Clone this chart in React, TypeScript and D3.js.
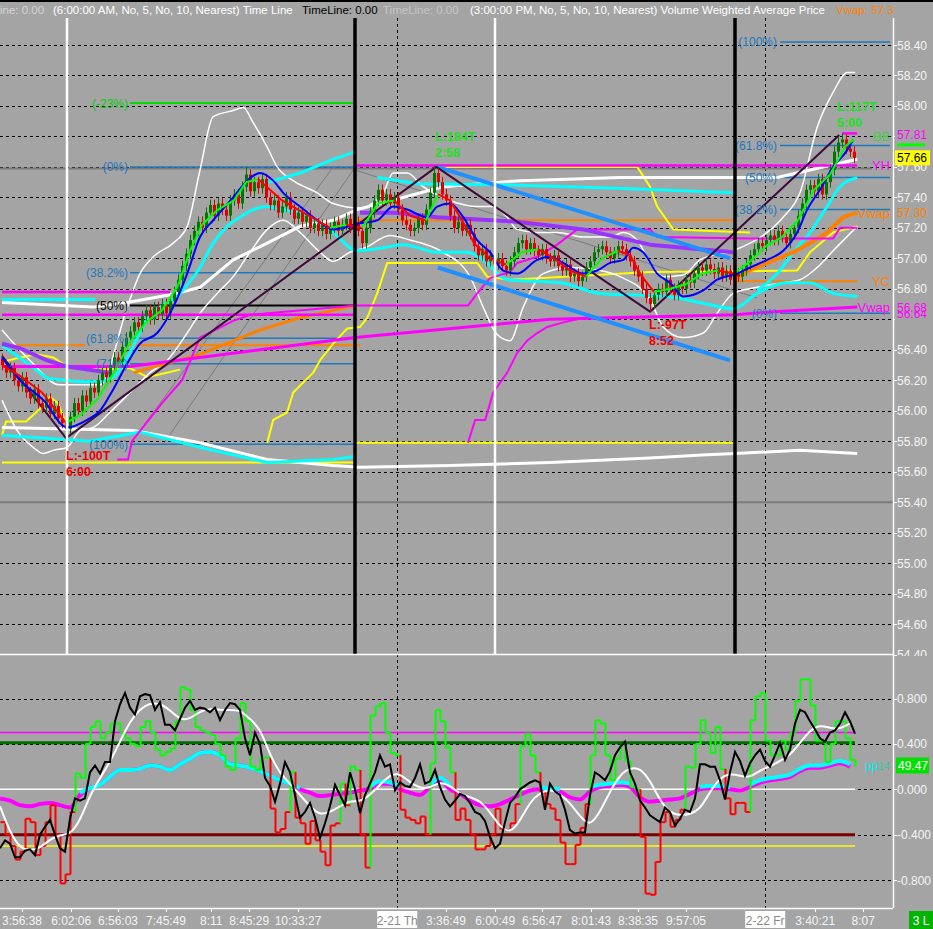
import { useEffect, useRef } from "react"
import * as d3 from "d3"

type Knot = [number, number]

// ---- price bars (one close per bar, bars are evenly spaced) ----
const closes = [
  56.30, 56.25, 56.28, 56.20, 56.16, 56.22, 56.12, 56.08, 56.14, 56.05,
  56.02, 56.08, 55.98, 56.03, 55.95, 55.92, 55.88, 55.96, 56.05, 56.00,
  56.10, 56.06, 56.15, 56.12, 56.20, 56.25, 56.22, 56.30, 56.35, 56.32,
  56.42, 56.48, 56.52, 56.58, 56.55, 56.62, 56.66, 56.60, 56.68, 56.63,
  56.70, 56.64, 56.72, 56.78, 56.86, 56.95, 57.03, 57.12, 57.18, 57.24,
  57.20, 57.30, 57.35, 57.28, 57.36, 57.32, 57.28, 57.38, 57.42, 57.36,
  57.47, 57.55, 57.44, 57.50, 57.46, 57.52, 57.40, 57.35, 57.38, 57.30,
  57.34, 57.40, 57.32, 57.26, 57.30, 57.24, 57.28, 57.20, 57.23, 57.18,
  57.22, 57.16, 57.20, 57.24, 57.18, 57.22, 57.26, 57.20, 57.24, 57.18,
  57.10, 57.20, 57.30, 57.38, 57.45, 57.38, 57.42, 57.36, 57.40, 57.32,
  57.25, 57.22, 57.18, 57.20, 57.26, 57.22, 57.32, 57.43, 57.56, 57.50,
  57.42, 57.38, 57.28, 57.20, 57.24, 57.18, 57.22, 57.16, 57.08, 57.02,
  57.06, 56.98, 57.02, 56.96, 57.00, 56.95, 56.92, 56.98, 57.04, 57.10,
  57.12, 57.06, 57.10, 57.05, 57.02, 57.06, 57.00, 56.98, 57.02, 56.95,
  56.92, 56.96, 56.88, 56.90, 56.85, 56.88, 56.94, 56.98, 57.04, 57.06,
  57.08, 57.04, 57.00, 57.04, 57.08, 57.06, 57.02, 56.98, 56.92, 56.88,
  56.80, 56.74, 56.70, 56.76, 56.80, 56.78, 56.86, 56.80, 56.76, 56.82,
  56.80, 56.86, 56.84, 56.90, 56.94, 56.92, 56.96, 56.93, 56.90, 56.94,
  56.88, 56.92, 56.86, 56.90, 56.88, 56.92, 56.96, 57.02, 57.06, 57.10,
  57.08, 57.12, 57.15, 57.12, 57.18, 57.14, 57.10, 57.16, 57.20, 57.28,
  57.36, 57.45, 57.48, 57.44, 57.52, 57.42, 57.50, 57.58, 57.70, 57.76,
  57.78, 57.72, 57.70, 57.66,
]
const swingHighs: Knot[] = [[61, 57.60], [108, 57.61], [210, 57.82]]
const swingLows: Knot[] = [[16, 55.83], [162, 56.65]]

const priceTicks = ["58.40", "58.20", "58.00", "57.80", "57.60", "57.40", "57.20", "57.00", "56.80", "56.60",
  "56.40", "56.20", "56.00", "55.80", "55.60", "55.40", "55.20", "55.00", "54.80", "54.60", "54.40"]
// tick labels hidden behind the price tags
const hiddenTicks = ["56.60"]
const oscTicks = ["0.800", "0.400", "0.000", "-0.400", "-0.800"]

const timeLabels = ["3:56:38", "6:02:06", "6:56:03", "7:45:49", "8:11", "8:45:29", "10:33:27",
  "3:36:49", "6:00:49", "6:56:47", "8:01:43", "8:38:35", "9:57:05", "3:40:21", "8:07"]
const timeLabelBars = [5, 17.3, 29, 41, 52.3, 61.8, 74, 111, 123.3, 135, 147.3, 159, 171, 203.3, 215.3]
const dayLabels = ["2-21 Th", "2-22 Fr"]
const dayBars = [98.8, 190.8]
const sessionBars = [88.25, 183.25]
const timeLineBars = [16.25, 123.25]

// ---- moving averages / bands (bar index, price) ----
const blueMa: Knot[] = [[0, 56.35], [4.5, 56.2], [10.3, 56.07], [16.3, 55.89], [21.3, 55.94], [24.5, 56.0], [27.8, 56.14],
  [31.3, 56.31], [34.5, 56.44], [38.8, 56.51], [42.8, 56.68], [46.3, 56.9], [49.5, 57.14], [52.8, 57.25], [57.8, 57.4],
  [61.3, 57.51], [64.5, 57.56], [67.8, 57.51], [70.3, 57.43], [74.5, 57.34], [78.8, 57.25], [82.8, 57.19], [89.5, 57.23],
  [93.8, 57.25], [97.8, 57.34], [101.3, 57.32], [106.3, 57.27], [108.8, 57.34], [112, 57.36], [115.3, 57.27], [118.8, 57.12],
  [122, 57.04], [125.3, 56.92], [128.8, 56.9], [133.8, 56.99], [137, 57.01], [140.3, 56.97], [145.3, 56.9], [148.8, 56.92],
  [152, 56.97], [155.3, 56.99], [157.8, 57.07], [160.3, 57.04], [163.8, 56.9], [167, 56.84], [170.3, 56.75], [175.3, 56.79],
  [178.8, 56.86], [183.8, 56.9], [187, 56.94], [191.3, 56.99], [195.3, 57.05], [198.8, 57.17], [201.3, 57.32], [204.5, 57.45],
  [207.8, 57.6], [211.3, 57.71], [212.8, 57.78]]
const fastMa: Knot[] = [[0, 56.3], [5, 56.22], [10, 56.12], [16, 55.92], [20, 55.98], [24, 56.08], [28, 56.25], [32, 56.45],
  [36, 56.58], [40, 56.66], [44, 56.82], [47, 57.05], [50, 57.22], [54, 57.32], [58, 57.38], [61, 57.5], [64, 57.52],
  [67, 57.45], [70, 57.38], [74, 57.32], [78, 57.26], [82, 57.2], [86, 57.22], [90, 57.2], [94, 57.36], [98, 57.38],
  [102, 57.28], [106, 57.25], [109, 57.42], [112, 57.38], [115, 57.25], [118, 57.1], [122, 57.0], [126, 56.96], [130, 57.04],
  [134, 57.06], [138, 57.0], [142, 56.92], [146, 56.88], [150, 57.0], [154, 57.05], [157, 57.02], [160, 56.88], [163, 56.78],
  [167, 56.8], [171, 56.83], [175, 56.9], [179, 56.92], [183, 56.9], [187, 56.98], [191, 57.08], [195, 57.14], [199, 57.25],
  [203, 57.45], [207, 57.55], [211, 57.74], [213, 57.78]]
const bandUpper: Knot[] = [[0, 56.53], [7, 56.33], [14.5, 56.17], [24.5, 56.17], [31.3, 56.68], [34.5, 56.9], [37.8, 57.01],
  [42.8, 57.1], [46.3, 57.21], [49.5, 57.58], [52.8, 57.93], [57.8, 57.97], [60.3, 57.99], [62.8, 57.89], [66.3, 57.73],
  [68.8, 57.6], [72.8, 57.51], [78.8, 57.43], [82.8, 57.36], [89.5, 57.33], [95.3, 57.43], [97.8, 57.56], [101.3, 57.56],
  [105.3, 57.47], [112, 57.38], [118.8, 57.34], [122.8, 57.34], [126.3, 57.27], [128.8, 57.19], [133.8, 57.17], [138.8, 57.17],
  [145.3, 57.14], [152, 57.14], [155.3, 57.17], [158.8, 57.12], [162, 56.97], [165.3, 56.88], [170.3, 56.89], [174.5, 56.99],
  [182.8, 57.05], [191.3, 57.17], [195.3, 57.27], [199.5, 57.43], [203.8, 57.86], [207.8, 58.09], [211.3, 58.22], [213.3, 58.22]]
const bandLower: Knot[] = [[0, 56.07], [3.8, 55.87], [7.8, 55.76], [10.3, 55.72], [12.8, 55.74], [16.3, 55.76], [19.5, 55.87],
  [22.8, 55.89], [27, 55.99], [32.8, 56.14], [37, 56.25], [41.3, 56.33], [46.3, 56.51], [49.5, 56.64], [53.8, 56.77],
  [57.8, 56.88], [62, 57.04], [66.3, 57.19], [70.3, 57.25], [74.5, 57.17], [79.5, 57.04], [82.8, 56.98], [87, 57.04],
  [90.8, 57.07], [97, 57.15], [102, 57.12], [109.5, 57.05], [117, 56.88], [120.3, 56.68], [123.8, 56.5], [127, 56.46],
  [130.3, 56.68], [135.3, 56.9], [142, 56.94], [149.5, 56.92], [154.5, 56.88], [162, 56.73], [165.3, 56.55], [170.3, 56.48],
  [175.3, 56.51], [178.8, 56.64], [182.8, 56.77], [188.8, 56.81], [195.3, 56.84], [199.5, 56.86], [203.8, 56.94],
  [207.8, 57.05], [213.8, 57.21]]
const slowWhite: Knot[] = [[0, 56.71], [22.8, 56.68], [31.3, 56.71], [43.8, 56.77], [49.5, 56.81], [57.8, 56.99], [66.3, 57.1],
  [74.5, 57.21], [82.8, 57.25], [88.8, 57.32], [110.3, 57.47], [129.5, 57.51], [154.5, 57.53], [183.3, 57.53], [193.8, 57.53],
  [202, 57.58], [213.8, 57.65]]
const longWhite: Knot[] = [[0, 55.89], [16.3, 55.88], [32.8, 55.87], [49.5, 55.79], [66.3, 55.68], [82.8, 55.64], [89.5, 55.63],
  [112, 55.64], [137, 55.66], [162, 55.69], [175, 55.71], [183.3, 55.72], [199.5, 55.74], [213.8, 55.72]]
const cyanLow: Knot[] = [[0, 56.43], [7, 56.3], [12, 56.21], [23.3, 56.19], [27.8, 56.22], [31.3, 56.35], [36.3, 56.6],
  [44.5, 56.77], [49.5, 56.94], [52.8, 57.1], [56.3, 57.21], [59.5, 57.27], [62.8, 57.32], [66.3, 57.34], [69.5, 57.32],
  [74.5, 57.3], [82, 57.19], [88.8, 57.05], [95.3, 57.07], [100.3, 57.09], [108.8, 57.04], [116.3, 57.04], [120.3, 56.99],
  [126.3, 56.86], [139.5, 56.84], [149.5, 56.77], [166.3, 56.75], [174.5, 56.71], [182.8, 56.67], [188.8, 56.77],
  [196.3, 56.84], [202, 56.84], [207.8, 56.77], [213.8, 56.75]]
const cyanHighA: Knot[] = [[65.3, 57.49], [74.5, 57.56], [82.8, 57.65], [88.3, 57.7]]
const cyanHighB: Knot[] = [[93.8, 57.53], [103.8, 57.49], [128.8, 57.48], [153.8, 57.46], [182.8, 57.43]]
const cyanHighC: Knot[] = [[188.8, 56.79], [193.8, 56.9], [197.8, 57.04], [202, 57.17], [206.3, 57.34], [209.5, 57.47], [213.8, 57.53]]
const cyanBottom: Knot[] = [[0, 55.84], [16.3, 55.81], [22, 55.8], [34.5, 55.86], [49.5, 55.76], [66.3, 55.66], [82.8, 55.68], [88.3, 55.7]]
const cyanFlat: Knot[] = [[0, 56.73], [23.3, 56.73]]
const purpleA: Knot[] = [[0, 56.44], [4.5, 56.41], [11.3, 56.33], [16.3, 56.29], [27, 56.25]]
const purpleB: Knot[] = [[89.5, 57.3], [97.8, 57.3], [108.8, 57.27], [128.8, 57.24], [145.3, 57.19], [162, 57.09], [182.8, 57.04]]

// ---- levels, vwap and step lines ----
const magentaVwap: Knot[] = [[0, 56.29], [32, 56.29], [88.3, 56.48], [137, 56.6], [183.3, 56.63], [193, 56.65], [213.8, 56.68]]
const magentaStep: Knot[] = [[28.8, 55.68], [31.5, 55.68], [32.5, 55.8], [40, 56.05], [45, 56.2], [49.5, 56.48], [57.8, 56.59],
  [62, 56.63], [88.3, 56.69], [116.5, 56.69], [118.8, 56.77], [122, 56.87], [127, 56.91], [128.8, 56.97], [133.8, 57.01],
  [138.8, 57.09], [143.8, 57.19], [162, 57.19], [163.8, 57.14], [187, 57.13], [207.8, 57.13], [209.5, 57.2], [213.8, 57.2]]
const magentaStep2: Knot[] = [[116.5, 55.79], [118.3, 55.94], [120.8, 55.94], [122.8, 56.12], [126.3, 56.25], [128.8, 56.38],
  [131.3, 56.46], [133.8, 56.51], [136.3, 56.55], [140.3, 56.58], [143.8, 56.6]]
const orangeVwapA: Knot[] = [[32.8, 56.25], [49.5, 56.37], [64.5, 56.53], [74.5, 56.61], [88.3, 56.69]]
const orangeVwapB: Knot[] = [[183.3, 56.86], [186, 56.91], [191.3, 56.97], [197.8, 57.04], [202, 57.1], [206.3, 57.17], [210.3, 57.27], [213.8, 57.3]]
const yellowStep: Knot[] = [[66.3, 55.79], [67.8, 55.94], [71.3, 55.99], [72.8, 56.12], [77.8, 56.25], [79.5, 56.33], [82.8, 56.44],
  [86.3, 56.54], [89.5, 56.55], [91.3, 56.61], [93.8, 56.77], [96.3, 56.97], [118.8, 56.97], [121.3, 56.88], [127, 56.86],
  [162, 56.91], [198.8, 56.92], [202, 57.04], [207.8, 57.17], [213.8, 57.21]]
const yellowTop: Knot[] = [[108.8, 57.6], [158.8, 57.6], [162, 57.47], [163.8, 57.34], [167.8, 57.19], [187, 57.17]]
const yellowLeft: Knot[] = [[0, 56.32], [4.5, 56.35], [8.8, 56.37], [12.8, 56.35], [16.3, 56.29], [24.5, 56.27], [32, 56.28], [36.3, 56.22], [44.5, 56.27]]
const yellowLeft2: Knot[] = [[0, 55.84], [1, 55.93], [6, 55.93], [9, 56.0], [12, 56.09], [14, 56.05], [16.3, 55.9]]
const zigzag: Knot[] = [[0, 56.36], [16, 55.82], [108.6, 57.6], [162, 56.65], [209.3, 57.81]]
const channelUp: Knot[] = [[108.8, 57.6], [182, 57.0]]
const channelDn: Knot[] = [[109, 56.94], [182, 56.33]]
const grayRays: Knot[][] = [[[32, 55.78], [82.8, 57.6]], [[40.3, 55.78], [87.8, 57.58]], [[87, 57.59], [188.8, 56.74]]]

// [price, fromBar, toBar]
const magentaLevels: [number, number, number][] = [[56.78, 0, 42], [56.63, 0, 88.3], [57.61, 88.3, 213.8], [57.82, 210, 213.8]]
const orangeLevels: [number, number, number][] = [[56.43, 0, 20.8], [56.43, 32, 89.5], [57.25, 88.3, 183.3], [56.85, 183.3, 213.8]]
const yellowLevels: [number, number, number][] = [[55.66, 0, 88.3], [55.79, 88.3, 183.3]]
const grayLevels: [number, number, number][] = [[57.59, -1, 217.5], [55.4, -1, 223]]

// fibonacci retracements
const fibLeftPct = [-23, 0, 38.2, 50, 61.8, 71, 100]
const fibLeftHigh = 57.6
const fibLeftLow = 55.78
const fibRightPct = [100, 61.8, 50, 38.2, 0]
const fibRightHigh = 58.42
const fibRightLow = 56.64

// ---- lower panel oscillators (evenly sampled) ----
const stepOsc = [
  -0.29, -0.40, -0.50, -0.62, -0.55, -0.26, -0.29, -0.58, -0.50, -0.29,
  -0.14, -0.40, -0.83, -0.75, -0.20, 0.14, 0.10, 0.40, 0.55, 0.60,
  0.45, 0.50, 0.58, 0.58, 0.50, 0.45, 0.40, 0.38, 0.55, 0.60,
  0.50, 0.35, 0.30, 0.33, 0.36, 0.60, 0.90, 0.88, 0.70, 0.55,
  0.52, 0.50, 0.48, 0.40, 0.30, 0.20, 0.17, 0.45, 0.76, 0.60,
  0.20, 0.17, 0.28, 0.28, -0.17, -0.38, -0.35, -0.20, 0.15, -0.25,
  -0.30, -0.48, -0.28, -0.45, -0.55, -0.67, -0.32, -0.30, 0.05, -0.14,
  0.20, 0.17, -0.40, -0.69, 0.65, 0.73, 0.76, 0.50, 0.32, 0.30,
  -0.18, -0.25, -0.27, -0.30, -0.24, -0.40, 0.23, 0.70, 0.60, 0.37,
  0.15, -0.27, -0.17, -0.27, -0.40, -0.53, -0.53, -0.50, -0.40, -0.17,
  -0.35, -0.36, -0.30, -0.13, 0.38, 0.49, 0.30, 0.15, -0.03, -0.13,
  -0.17, -0.27, -0.47, -0.66, -0.66, -0.49, -0.34, -0.13, 0.30, 0.61,
  0.58, 0.30, 0.08, 0.27, 0.39, 0.25, 0.02, 0.00, -0.42, -0.92,
  -0.93, -0.64, -0.29, -0.20, -0.33, -0.27, -0.18, 0.20, 0.19, 0.40,
  0.61, 0.50, 0.32, 0.55, 0.18, -0.08, -0.22, -0.12, -0.12, -0.20,
  0.61, 0.82, 0.85, 0.43, 0.30, 0.30, 0.43, 0.35, 0.50, 0.78,
  0.97, 0.97, 0.74, 0.43, 0.43, 0.24, 0.40, 0.60, 0.60, 0.45,
  0.26, 0.20,
]
const blackOsc = [
  -0.52, -0.45, -0.48, -0.60, -0.60, -0.54, -0.53, -0.58, -0.40, -0.33,
  -0.27, -0.40, -0.52, -0.55, -0.26, -0.08, -0.10, -0.08, 0.15, 0.21,
  0.14, 0.24, 0.24, 0.60, 0.75, 0.85, 0.72, 0.66, 0.82, 0.84,
  0.83, 0.70, 0.77, 0.57, 0.57, 0.52, 0.62, 0.72, 0.78, 0.70,
  0.72, 0.71, 0.68, 0.72, 0.61, 0.70, 0.76, 0.75, 0.70, 0.45,
  0.30, 0.50, 0.40, 0.10, 0.03, -0.11, 0.05, 0.24, 0.15, -0.05,
  -0.25, -0.20, -0.12, -0.25, -0.43, -0.30, -0.15, 0.04, -0.05, -0.14,
  0.15, 0.00, -0.21, -0.05, 0.05, 0.15, 0.30, 0.20, 0.22, -0.01,
  0.06, 0.03, 0.02, 0.10, 0.22, 0.05, 0.07, 0.17, 0.02, -0.09,
  -0.15, -0.10, -0.04, -0.06, -0.12, -0.20, -0.22, -0.28, -0.42, -0.52,
  -0.48, -0.29, -0.12, -0.07, 0.00, 0.03, 0.06, 0.08, 0.06, -0.18,
  0.05, -0.02, -0.05, -0.18, -0.36, -0.39, -0.38, -0.38, -0.05, 0.15,
  0.12, 0.08, 0.16, 0.30, 0.37, 0.42, 0.15, 0.05, -0.10, -0.16,
  -0.23, -0.26, -0.29, -0.16, -0.20, -0.32, -0.26, -0.18, -0.20, -0.08,
  0.22, 0.22, 0.20, 0.20, 0.08, -0.09, 0.15, 0.33, 0.25, 0.12,
  0.23, 0.30, 0.35, 0.25, 0.20, 0.30, 0.41, 0.26, 0.35, 0.58,
  0.70, 0.68, 0.60, 0.53, 0.45, 0.42, 0.50, 0.52, 0.58, 0.68,
  0.60, 0.49,
]
const whiteOsc = [
  -0.15, -0.38, -0.52, -0.54, -0.52, -0.44, -0.40, -0.40, -0.28, -0.05,
  0.10, 0.24, 0.42, 0.60, 0.71, 0.76, 0.76, 0.70, 0.61, 0.62,
  0.69, 0.71, 0.70, 0.70, 0.70, 0.62, 0.54, 0.30, 0.14, 0.05,
  -0.05, -0.15, -0.23, -0.20, -0.15, -0.10, -0.11, -0.05, 0.04, 0.13,
  0.14, 0.06, 0.01, 0.01, 0.07, 0.03, -0.04, -0.07, -0.10, -0.20,
  -0.33, -0.39, -0.28, -0.11, -0.03, 0.00, -0.04, -0.12, -0.24, -0.33,
  -0.20, -0.02, 0.13, 0.19, 0.19, 0.08, -0.10, -0.21, -0.23, -0.22,
  -0.18, -0.02, 0.10, 0.14, 0.12, 0.10, 0.17, 0.20, 0.25, 0.30,
  0.41, 0.52, 0.57, 0.54, 0.53, 0.58,
]
const cyanOsc: (number | null)[] = [
  null, null, null, null, null, null, null, null, -0.03, 0.01,
  0.04, 0.11, 0.17, 0.17, 0.18, 0.21, 0.20, 0.17, 0.22, 0.27,
  0.32, 0.33, 0.30, 0.22, 0.21, 0.19, 0.16, 0.12, 0.08, 0.05,
  0.01, null, null, null, null, null, null, 0.02, 0.07, 0.06,
  0.02, null, null, 0.04, 0.10, 0.03, null, null, null, null,
  null, null, null, null, 0.01, 0.01, 0.00, null, null, 0.02,
  0.04, 0.05, 0.06, 0.05, null, null, null, null, null, null,
  0.02, 0.03, 0.03, 0.02, null, 0.04, 0.08, 0.10, 0.11, 0.13,
  0.18, 0.21, 0.21, 0.23, 0.25, 0.22,
]
const magentaOsc = [
  -0.08, -0.10, -0.14, -0.15, -0.13, -0.12, -0.14, -0.16, -0.05, 0.01,
  0.04, 0.11, 0.17, 0.17, 0.18, 0.21, 0.20, 0.17, 0.22, 0.27,
  0.32, 0.33, 0.30, 0.22, 0.21, 0.19, 0.16, 0.12, 0.08, 0.05,
  0.00, -0.03, -0.06, -0.05, -0.04, -0.03, -0.01, 0.00, 0.05, 0.05,
  0.00, -0.03, -0.05, 0.02, 0.08, 0.00, -0.04, -0.10, -0.14, -0.15,
  -0.13, -0.09, -0.05, -0.01, 0.00, 0.00, -0.02, -0.07, -0.09, -0.02,
  0.02, 0.03, 0.04, 0.02, -0.07, -0.11, -0.10, -0.09, -0.08, -0.04,
  0.00, 0.01, 0.01, 0.00, -0.01, 0.02, 0.06, 0.08, 0.09, 0.11,
  0.16, 0.19, 0.19, 0.21, 0.23, 0.20,
]
const oscLevels = [0.5, 0.41, 0, -0.4, -0.5]
const oscLevelColors = ["#ff00ff", "#006e00", "#ffffff", "#7a0000", "#ffff00"]
const oscLevelWidths = [1.5, 3, 1.5, 3, 1.5]

const FONT = "'Liberation Sans', Arial, sans-serif"

export default function App() {
  const ref = useRef<SVGSVGElement>(null)

  useEffect(() => {
    const svg = d3.select(ref.current)
    svg.selectAll("*").remove()

    const W = 933, H = 929, plotR = 893
    const mainTop = 18, mainBot = 654, oscTop = 655, oscBot = 908

    const x = d3.scaleLinear().domain([0, 213]).range([2, 854])
    const y = d3.scaleLinear().domain([54.6, 58.4]).range([624.1, 45])
    const yo = d3.scaleLinear().domain([-0.8, 0.8]).range([880, 698.6])
    const xs = d3.scaleLinear().domain([0, stepOsc.length - 1]).range([0, 855])
    const xw = d3.scaleLinear().domain([0, whiteOsc.length - 1]).range([0, 850])
    const crisp = (v: number) => Math.round(v) + 0.5

    svg.append("rect").attr("width", W).attr("height", H).attr("fill", "#a4a4a4")

    const defs = svg.append("defs")
    defs.append("clipPath").attr("id", "clip-main").append("rect")
      .attr("x", 0).attr("y", mainTop).attr("width", plotR).attr("height", mainBot - mainTop)
    defs.append("clipPath").attr("id", "clip-osc").append("rect")
      .attr("x", 0).attr("y", oscTop).attr("width", plotR).attr("height", oscBot - oscTop)
    defs.append("clipPath").attr("id", "clip-head").append("rect")
      .attr("x", 0).attr("y", 0).attr("width", plotR).attr("height", mainTop)
    defs.append("clipPath").attr("id", "clip-axis").append("rect")
      .attr("x", plotR).attr("y", mainTop).attr("width", 40).attr("height", mainBot - mainTop + 2)

    // ---- header ----
    const head = svg.append("g").attr("clip-path", "url(#clip-head)")
      .attr("font-family", FONT).attr("font-size", 11.5)
    const headItems: [number, string, string][] = [
      [0, "ine: 0.00", "#d4d4d4"],
      [53, "(6:00:00 AM, No, 5, No, 10, Nearest)  Time Line", "#ffffff"],
      [302, "TimeLine: 0.00", "#000000"],
      [383, "TimeLine: 0.00", "#c4c4c4"],
      [470, "(3:00:00 PM, No, 5, No, 10, Nearest)  Volume Weighted Average Price", "#ffffff"],
      [836, "Vwap: 57.30", "#ff8000"],
    ]
    headItems.forEach(([hx, t, c]) => head.append("text").attr("x", hx).attr("y", 14).attr("fill", c).text(t))
    svg.append("rect").attr("width", W).attr("height", 2).attr("fill", "#000")

    // ---- grids ----
    priceTicks.forEach(t => {
      svg.append("line").attr("x1", 0).attr("x2", plotR)
        .attr("y1", crisp(y(+t))).attr("y2", crisp(y(+t)))
        .attr("stroke", "#000").attr("stroke-dasharray", "3,3")
        .attr("clip-path", "url(#clip-main)")
    })
    oscTicks.forEach(t => {
      svg.append("line").attr("x1", 0).attr("x2", plotR)
        .attr("y1", crisp(yo(+t))).attr("y2", crisp(yo(+t)))
        .attr("stroke", "#000").attr("stroke-dasharray", "3,3")
    })
    dayBars.forEach(b => {
      svg.append("line").attr("x1", crisp(x(b))).attr("x2", crisp(x(b)))
        .attr("y1", mainTop).attr("y2", oscBot)
        .attr("stroke", "#000").attr("stroke-dasharray", "3,3")
    })

    // ---- main panel ----
    const main = svg.append("g").attr("clip-path", "url(#clip-main)")
    const path = (pts: Knot[], color: string, width: number, curve: d3.CurveFactory = d3.curveLinear) =>
      main.append("path")
        .attr("d", d3.line<Knot>().x(d => x(d[0])).y(d => y(d[1])).curve(curve)(pts))
        .attr("fill", "none").attr("stroke", color).attr("stroke-width", width)
        .attr("stroke-linejoin", "round")
    const level = (lv: [number, number, number], color: string, width: number) =>
      path([[lv[1], lv[0]], [lv[2], lv[0]]], color, width)

    grayLevels.forEach(lv => level(lv, "#7c7c7c", 2))
    grayRays.forEach(r => path(r, "#7a7a7a", 1))

    // fib retracements
    const fibLeftPrice = (p: number) => fibLeftHigh - (p / 100) * (fibLeftHigh - fibLeftLow)
    fibLeftPct.forEach(p => {
      const c = p < 0 ? "#00e000" : p === 50 ? "#000000" : "#1e78be"
      path([[32, fibLeftPrice(p)], [88.3, fibLeftPrice(p)]], c, p === 50 || p < 0 ? 2 : 1.5)
    })
    const fibRightPrice = (p: number) => fibRightLow + (p / 100) * (fibRightHigh - fibRightLow)
    fibRightPct.forEach(p => path([[194.5, fibRightPrice(p)], [222, fibRightPrice(p)]], "#1e78be", 1.5))

    yellowLevels.forEach(lv => level(lv, "#ffff00", 2))
    orangeLevels.forEach(lv => level(lv, "#ff8000", 2))
    path(yellowLeft, "#ffff00", 2)
    path(yellowLeft2, "#ffff00", 2)
    path(yellowStep, "#ffff00", 2)
    path(yellowTop, "#ffff00", 2)
    path(longWhite, "#ffffff", 3)
    path(bandUpper, "#ffffff", 1.5, d3.curveMonotoneX)
    path(bandLower, "#ffffff", 1.5, d3.curveMonotoneX)
    path(cyanFlat, "#00ffff", 3)
    path(slowWhite, "#ffffff", 3)
    path(cyanBottom, "#00ffff", 3)
    path(cyanLow, "#00ffff", 3, d3.curveMonotoneX)
    path(cyanHighA, "#00ffff", 3)
    path(cyanHighB, "#00ffff", 3)
    path(cyanHighC, "#00ffff", 3, d3.curveMonotoneX)
    path(orangeVwapA, "#ff8000", 3)
    path(orangeVwapB, "#ff8000", 4)
    magentaLevels.forEach(lv => level(lv, "#ff00ff", 2.5))
    path(magentaStep, "#ff00ff", 2)
    path(magentaStep2, "#ff00ff", 2)
    path(magentaVwap, "#ff00ff", 3)
    path(purpleA, "#9933ff", 4)
    path(purpleB, "#9933ff", 4)
    path(channelUp, "#2090ff", 4)
    path(channelDn, "#2090ff", 4)
    path(zigzag, "#3c0a3c", 2)

    // candles
    const wick = 0.035
    closes.forEach((c, i) => {
      const o = i === 0 ? c + 0.04 : closes[i - 1]
      let hi = Math.max(o, c) + wick
      let lo = Math.min(o, c) - wick
      const sh = swingHighs.find(s => s[0] === i)
      const sl = swingLows.find(s => s[0] === i)
      if (sh) hi = sh[1]
      if (sl) lo = sl[1]
      const col = c >= o ? "#007800" : "#e00000"
      const cx = Math.round(x(i)) + 0.5
      main.append("line").attr("x1", cx).attr("x2", cx).attr("y1", y(hi)).attr("y2", y(lo))
        .attr("stroke", col).attr("stroke-width", 1)
      const top = y(Math.max(o, c)), bot = y(Math.min(o, c))
      main.append("rect").attr("x", cx - 1.5).attr("y", top).attr("width", 3)
        .attr("height", Math.max(1, bot - top)).attr("fill", col)
    })

    path(blueMa, "#0000ff", 2, d3.curveMonotoneX)
    for (let k = 1; k < fastMa.length; k++) {
      const up = fastMa[k][1] >= fastMa[k - 1][1]
      path([fastMa[k - 1], fastMa[k]], up ? "#00ff00" : "#ff0000", 2)
    }

    // session / time lines
    timeLineBars.forEach(b => main.append("line").attr("x1", x(b)).attr("x2", x(b))
      .attr("y1", mainTop).attr("y2", mainBot).attr("stroke", "#ffffff").attr("stroke-width", 2.5))
    sessionBars.forEach(b => svg.append("line").attr("x1", x(b)).attr("x2", x(b))
      .attr("y1", mainTop).attr("y2", mainBot + 1).attr("stroke", "#000").attr("stroke-width", 3.5))

    // fib labels
    const lab = main.append("g").attr("font-family", FONT).attr("font-size", 12)
    fibLeftPct.forEach(p => {
      lab.append("text").attr("x", 128).attr("y", y(fibLeftPrice(p)) + 4.5).attr("text-anchor", "end")
        .attr("fill", p < 0 ? "#00d000" : p === 50 ? "#000" : "#1e78be").text(`(${p}%)`)
    })
    fibRightPct.forEach(p => {
      lab.append("text").attr("x", 777).attr("y", y(fibRightPrice(p)) + 4.5).attr("text-anchor", "end")
        .attr("fill", "#1e78be").text(`(${p}%)`)
    })

    // swing annotations: bar, extreme price, label, time, colour, offset of first line
    const swings: [number, number, string, string, string, number][] = [
      [16.25, 55.82, "L:-100T", "6:00", "#f00000", 22],
      [108.5, 57.61, "L:184T", "2:58", "#20e020", -24],
      [162, 56.64, "L:-97T", "8:52", "#f00000", 16],
      [209, 57.81, "L:117T", "5:00", "#20e020", -24],
    ]
    swings.forEach(([b, p, t1, t2, c, off]) => {
      const yy = y(p) + off
      const g = main.append("g").attr("font-family", FONT).attr("font-size", 12.5)
        .attr("font-weight", "bold").attr("fill", c)
      g.append("text").attr("x", x(b) - 1).attr("y", yy).text(t1)
      g.append("text").attr("x", x(b) - 1).attr("y", yy + 16).text(t2)
    })

    // line tags at the right end
    const tags: [string, number, string][] = [
      ["BB", 57.8, "#40d040"], ["YH", 57.61, "#ff00ff"], ["Vwap", 57.3, "#ff8000"],
      ["YC", 56.85, "#ff8000"], ["Vwap", 56.68, "#ff00ff"],
    ]
    tags.forEach(([t, p, c]) => main.append("text").attr("x", 890).attr("y", y(p) + 5)
      .attr("text-anchor", "end").attr("font-family", FONT).attr("font-size", 13).attr("fill", c).text(t))

    // ---- panel frames ----
    svg.append("line").attr("x1", 0).attr("x2", plotR).attr("y1", mainBot + 0.5).attr("y2", mainBot + 0.5)
      .attr("stroke", "#fff").attr("stroke-width", 1.5)
    svg.append("line").attr("x1", 0).attr("x2", plotR).attr("y1", oscBot + 0.5).attr("y2", oscBot + 0.5)
      .attr("stroke", "#fff").attr("stroke-width", 1.5)
    svg.append("line").attr("x1", plotR + 0.5).attr("x2", plotR + 0.5).attr("y1", mainTop).attr("y2", oscBot)
      .attr("stroke", "#fff").attr("stroke-width", 1.5)

    // ---- price axis ----
    const axis = svg.append("g").attr("clip-path", "url(#clip-axis)")
      .attr("font-family", FONT).attr("font-size", 12)
    priceTicks.forEach(t => {
      axis.append("line").attr("x1", plotR).attr("x2", plotR + 4)
        .attr("y1", crisp(y(+t))).attr("y2", crisp(y(+t))).attr("stroke", "#fff")
      if (hiddenTicks.includes(t)) return
      axis.append("text").attr("x", 897).attr("y", y(+t) + 4.5).attr("fill", "#f4f4f4").text(t)
    })
    const axTag = (p: number, t: string, c: string, bg?: string) => {
      if (bg) axis.append("rect").attr("x", 895).attr("y", y(p) - 7.5).attr("width", 35).attr("height", 15).attr("fill", bg)
      axis.append("text").attr("x", 897).attr("y", y(p) + 4.5).attr("fill", c).text(t)
    }
    axTag(56.635, "56.64", "#ff00ff", "#a4a4a4")
    axis.append("rect").attr("x", 895).attr("y", y(56.68) - 7).attr("width", 35).attr("height", 10).attr("fill", "#a4a4a4")
    axTag(56.68, "56.68", "#ff00ff")
    axTag(57.3, "57.30", "#ff8000", "#a4a4a4")
    axTag(57.81, "57.81", "#ff00ff", "#a4a4a4")
    axis.append("rect").attr("x", 897).attr("y", y(57.745) - 1.5).attr("width", 28).attr("height", 3).attr("fill", "#00ff00")
    axTag(57.66, "57.66", "#000", "#ffff00")

    // ---- oscillator panel ----
    const osc = svg.append("g").attr("clip-path", "url(#clip-osc)")
    oscLevels.forEach((v, k) => osc.append("line").attr("x1", 0).attr("x2", 855)
      .attr("y1", yo(v)).attr("y2", yo(v)).attr("stroke", oscLevelColors[k]).attr("stroke-width", oscLevelWidths[k]))

    osc.append("path").datum(magentaOsc)
      .attr("d", d3.line<number>().x((_, i) => xw(i)).y(d => yo(d)).curve(d3.curveMonotoneX))
      .attr("fill", "none").attr("stroke", "#ff00ff").attr("stroke-width", 4)
    osc.append("path").datum(cyanOsc)
      .attr("d", d3.line<number | null>().defined(d => d !== null).x((_, i) => xw(i)).y(d => yo(d as number)).curve(d3.curveMonotoneX))
      .attr("fill", "none").attr("stroke", "#00ffff").attr("stroke-width", 4)

    for (let i = 0; i < stepOsc.length - 1; i++) {
      const a = stepOsc[i], b = stepOsc[i + 1]
      const x0 = Math.round(xs(i)) + 0.5, x1 = Math.round(xs(i + 1)) + 0.5
      osc.append("line").attr("x1", x0).attr("x2", x1).attr("y1", yo(a)).attr("y2", yo(a))
        .attr("stroke", a < 0 ? "#ff0000" : "#00ff00").attr("stroke-width", 2)
      osc.append("line").attr("x1", x1).attr("x2", x1).attr("y1", yo(a)).attr("y2", yo(b))
        .attr("stroke", b < 0 ? "#ff0000" : "#00ff00").attr("stroke-width", 2)
    }
    osc.append("path").datum(whiteOsc)
      .attr("d", d3.line<number>().x((_, i) => xw(i)).y(d => yo(d)).curve(d3.curveBasis))
      .attr("fill", "none").attr("stroke", "#ffffff").attr("stroke-width", 2)
    osc.append("path").datum(blackOsc)
      .attr("d", d3.line<number>().x((_, i) => xs(i)).y(d => yo(d)))
      .attr("fill", "none").attr("stroke", "#000000").attr("stroke-width", 2)

    const oscAxis = svg.append("g").attr("font-family", FONT).attr("font-size", 12)
    oscTicks.forEach(t => {
      oscAxis.append("line").attr("x1", plotR).attr("x2", plotR + 4)
        .attr("y1", crisp(yo(+t))).attr("y2", crisp(yo(+t))).attr("stroke", "#fff")
      oscAxis.append("text").attr("x", 897).attr("y", yo(+t) + 4.5).attr("fill", "#f4f4f4").text(t)
    })
    const ppText = oscAxis.append("text").attr("x", 865).attr("y", yo(0.21) + 5).attr("font-size", 12)
    ppText.append("tspan").attr("fill", "#00e8e8").text("pp")
    ppText.append("tspan").attr("fill", "#30c8a0").attr("font-size", 10).text("14")
    oscAxis.append("rect").attr("x", 896).attr("y", yo(0.21) - 8).attr("width", 33).attr("height", 16).attr("fill", "#00e000")
    oscAxis.append("text").attr("x", 898).attr("y", yo(0.21) + 4.5).attr("fill", "#ffffff").text("49.47")

    // ---- time axis ----
    const tax = svg.append("g").attr("font-family", FONT).attr("font-size", 12)
    timeLabels.forEach((t, k) => {
      const tx = x(timeLabelBars[k])
      tax.append("line").attr("x1", crisp(tx)).attr("x2", crisp(tx)).attr("y1", oscBot).attr("y2", oscBot + 4).attr("stroke", "#fff")
      tax.append("text").attr("x", tx).attr("y", 925).attr("text-anchor", "middle").attr("fill", "#f4f4f4").text(t)
    })
    dayLabels.forEach((t, k) => {
      const tx = x(dayBars[k])
      tax.append("rect").attr("x", tx - 20).attr("y", 911).attr("width", 40).attr("height", 17).attr("fill", "#ffffff")
      tax.append("text").attr("x", tx).attr("y", 925).attr("text-anchor", "middle").attr("fill", "#8a8a8a").text(t)
    })
    tax.append("rect").attr("x", 909).attr("y", 911).attr("width", 24).attr("height", 18).attr("fill", "#00b400")
    tax.append("text").attr("x", 921).attr("y", 925).attr("text-anchor", "middle").attr("fill", "#ffffff").text("3 L")
  }, [])

  return (
    <div style={{ position: "fixed", left: 0, top: 0 }}>
      <svg ref={ref} width={933} height={929} style={{ display: "block" }} />
    </div>
  )
}
